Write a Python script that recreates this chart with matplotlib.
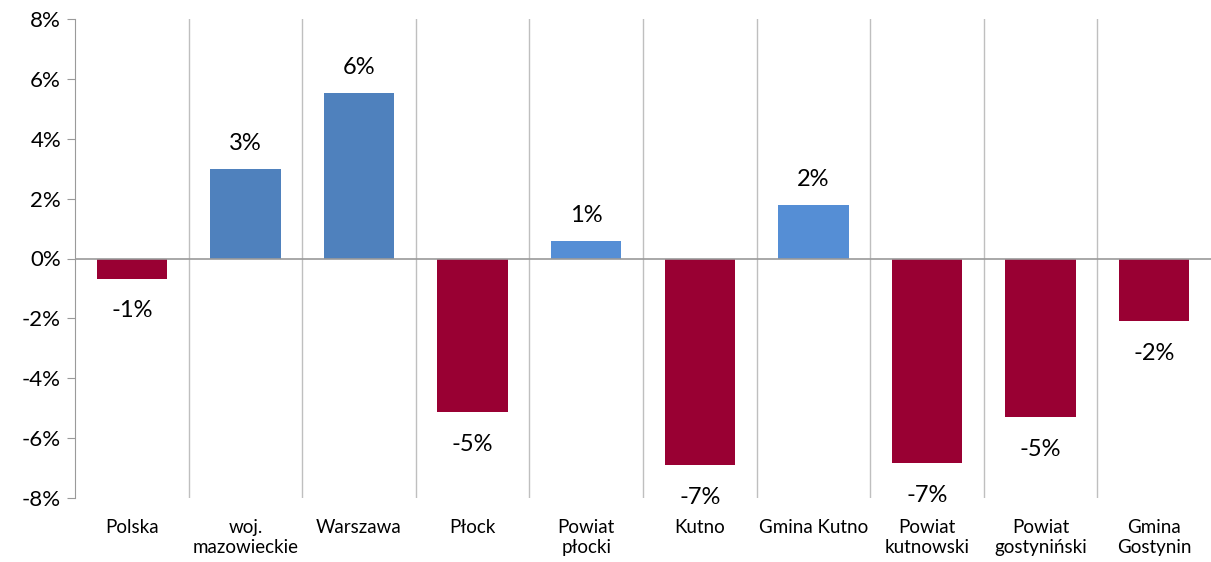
#!usr/bin/env python3

# Bar chart of percentage change per territorial unit

import matplotlib.pyplot as plt
import numpy as np

categories = ['Polska', 'woj.\nmazowieckie', 'Warszawa', 'Płock', 'Powiat\npłocki',
              'Kutno', 'Gmina Kutno', 'Powiat\nkutnowski', 'Powiat\ngostyniński', 'Gmina\nGostynin']
values = [-0.67, 3.0, 5.53, -5.13, 0.57, -6.9, 1.8, -6.83, -5.3, -2.1]
colors = ['#990033', '#4F81BD', '#4F81BD', '#990033', '#558ED5',
          '#990033', '#558ED5', '#990033', '#990033', '#990033']
yticks = [-8, -6, -4, -2, 0, 2, 4, 6, 8]


def main():
    plt.rcParams['font.family'] = ['Lato', 'DejaVu Sans']

    fig = plt.figure(figsize=(12.11, 5.62), dpi=100)
    ax = fig.add_axes([75 / 1211, 1 - 498 / 562, 1 - 75 / 1211, (498 - 19) / 562])

    x = np.arange(len(categories))
    ax.bar(x, values, width=0.62, color=colors, zorder=3)

    # category separators like Excel's vertical gridlines
    for b in np.arange(0.5, len(categories) - 0.5, 1):
        ax.axvline(b, color='#BFBFBF', linewidth=1, zorder=1)
    ax.axhline(0, color='#9A9A9A', linewidth=1.2, zorder=4)

    for xi, v in zip(x, values):
        label = '{:.0f}%'.format(v)
        if v >= 0:
            ax.text(xi, v + 0.5, label, ha='center', va='bottom', fontsize=17)
        else:
            ax.text(xi, v - 0.72, label, ha='center', va='top', fontsize=17)

    ax.set_xlim(-0.5, len(categories) - 0.5)
    ax.set_ylim(-8, 8)
    ax.set_yticks(yticks)
    ax.set_yticklabels(['{}%'.format(t) for t in yticks], fontsize=16)
    ax.set_xticks(x)
    ax.set_xticklabels(categories, fontsize=13.5, va='top', linespacing=1.2)
    ax.tick_params(axis='x', length=0, pad=15)
    ax.tick_params(axis='y', length=6, color='#9A9A9A', pad=4)

    for s in ['top', 'right', 'bottom']:
        ax.spines[s].set_visible(False)
    ax.spines['left'].set_color('#9A9A9A')

    fig.savefig('out.png', dpi=100)


if __name__ == "__main__":
    main()
